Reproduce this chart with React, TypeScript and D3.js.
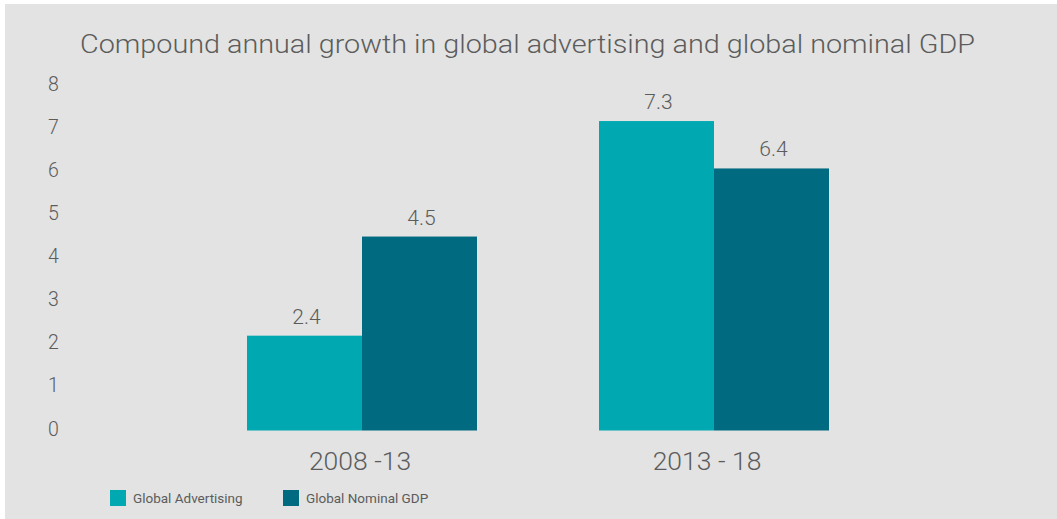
import React from "react";
import * as d3 from "d3";

const categories = ["2008 -13", "2013 - 18"];
const seriesNames = ["Global Advertising", "Global Nominal GDP"];
// bar heights as drawn in the picture
const advertisingValues = [2.2, 7.18];
const gdpValues = [4.5, 6.08];
// value labels as printed
const advertisingLabels = ["2.4", "7.3"];
const gdpLabels = ["4.5", "6.4"];
const yTicks = [0, 1, 2, 3, 4, 5, 6, 7, 8];
const colors = ["#00a9b2", "#006b80"];

const W = 1057;
const H = 519;
const TEXT = "#5c5c5c";
const FONT = "'Roboto', 'Liberation Sans', sans-serif";

export default function App() {
  const y = d3.scaleLinear().domain([0, 8]).range([430.5, 85.7]);
  const x = d3.scalePoint<string>().domain(categories).range([186, 890]).padding(0.5);
  const inner = d3.scaleBand<string>().domain(seriesNames).range([-115, 115]).padding(0);
  const values = [advertisingValues, gdpValues];
  const labels = [advertisingLabels, gdpLabels];
  const catOffsets = [-2, -7];

  return (
    <svg
      width={W}
      height={H}
      style={{ position: "absolute", left: 0, top: 0, background: "#ffffff" }}
    >
      <rect x={5} y={4} width={W - 5} height={H - 4} fill="#e2e3e2" />
      <text
        x={80}
        y={53}
        fontFamily={FONT}
        fontWeight={300}
        fontSize={26}
        fill={TEXT}
        textLength={895}
        lengthAdjust="spacingAndGlyphs"
      >
        Compound annual growth in global advertising and global nominal GDP
      </text>

      {yTicks.map((t) => (
        <text
          key={t}
          x={48}
          y={y(t) - 2}
          dy="0.36em"
          fontFamily={FONT}
          fontWeight={300}
          fontSize={19.5}
          fill={TEXT}
        >
          {t}
        </text>
      ))}

      {categories.map((c, ci) => (
        <g key={c} transform={`translate(${x(c)},0)`}>
          {seriesNames.map((s, si) => {
            const v = values[si][ci];
            const bx = inner(s)!;
            return (
              <g key={s}>
                <rect
                  x={bx}
                  y={y(v)}
                  width={inner.bandwidth()}
                  height={y(0) - y(v)}
                  fill={colors[si]}
                />
                <text
                  x={bx + inner.bandwidth() / 2 + 2}
                  y={y(v) - 12}
                  textAnchor="middle"
                  fontFamily={FONT}
                  fontWeight={300}
                  fontSize={21}
                  fill={TEXT}
                >
                  {labels[si][ci]}
                </text>
              </g>
            );
          })}
          <text
            x={catOffsets[ci]}
            y={469.5}
            textAnchor="middle"
            fontFamily={FONT}
            fontWeight={300}
            fontSize={26.5}
            fill={TEXT}
          >
            {c}
          </text>
        </g>
      ))}

      {seriesNames.map((s, i) => {
        const lx = [110, 283][i];
        return (
          <g key={s}>
            <rect x={lx} y={490} width={16} height={16} fill={colors[i]} />
            <text
              x={lx + 23}
              y={498}
              dy="0.35em"
              fontFamily={FONT}
              fontWeight={400}
              fontSize={13.5}
              fill={TEXT}
            >
              {s}
            </text>
          </g>
        );
      })}
    </svg>
  );
}
